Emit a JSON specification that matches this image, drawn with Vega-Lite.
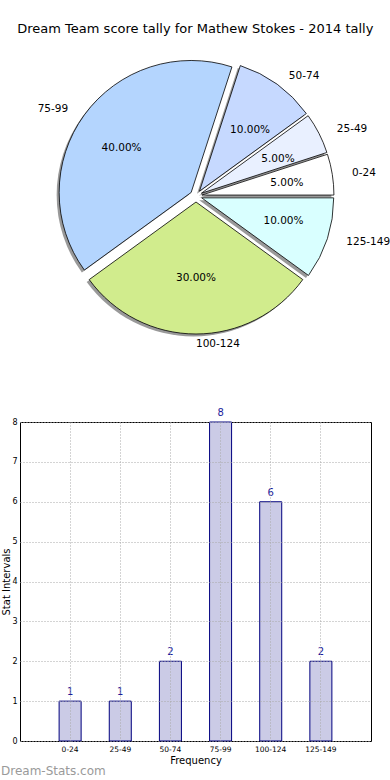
{
  "$schema": "https://vega.github.io/schema/vega-lite/v6.json",
  "padding": {"top": 23, "left": 0, "right": 0, "bottom": 0},
  "autosize": {"type": "pad"},
  "background": "white",
  "config": {"font": "DejaVu Sans", "view": {"stroke": null}},
  "title": {"text": "Dream Team score tally for Mathew Stokes - 2014 tally", "fontSize": 13, "fontWeight": "normal", "font": "DejaVu Sans", "color": "#000", "anchor": "middle", "offset": 4},
  "data": {"values": [
    {"k": 1, "label": "125-149", "n": 2, "pct": 0.10},
    {"k": 2, "label": "100-124", "n": 6, "pct": 0.30},
    {"k": 3, "label": "75-99", "n": 8, "pct": 0.40},
    {"k": 4, "label": "50-74", "n": 2, "pct": 0.10},
    {"k": 5, "label": "25-49", "n": 1, "pct": 0.05},
    {"k": 6, "label": "0-24", "n": 1, "pct": 0.05}
  ]},
  "bounds": "flush",
  "spacing": 70,
  "vconcat": [
    {
      "name": "pie",
      "width": 352,
      "height": 312,
      "encoding": {
        "theta": {"field": "n", "type": "quantitative", "stack": true, "scale": {"range": [1.5707963, 7.8539816]}},
        "order": {"field": "k", "type": "quantitative"}
      },
      "layer": [
        {
          "mark": {"type": "arc", "outerRadius": 132, "fill": "#333333", "opacity": 0.5,
            "x": {"expr": "pie_width/2 - 2.5 + 6*sin(scale('pie_theta', (datum.n_start + datum.n_end)/2))"},
            "y": {"expr": "pie_height/2 + 2.5 - 6*cos(scale('pie_theta', (datum.n_start + datum.n_end)/2))"}}
        },
        {
          "mark": {"type": "arc", "outerRadius": 132, "stroke": "#000000", "strokeWidth": 0.8,
            "x": {"expr": "pie_width/2 + 6*sin(scale('pie_theta', (datum.n_start + datum.n_end)/2))"},
            "y": {"expr": "pie_height/2 - 6*cos(scale('pie_theta', (datum.n_start + datum.n_end)/2))"}},
          "encoding": {
            "color": {"field": "label", "type": "nominal", "legend": null,
              "scale": {"domain": ["0-24", "25-49", "50-74", "75-99", "100-124", "125-149"],
                        "range": ["#ffffff", "#e9f0ff", "#c6d9ff", "#b4d5fe", "#d1ec8d", "#d9ffff"]}}
          }
        },
        {
          "mark": {"type": "text", "fontSize": 10.5, "baseline": "middle", "color": "#000000",
            "align": {"expr": "sin(scale('pie_theta', (datum.n_start + datum.n_end)/2)) > -0.01 ? 'left' : 'right'"},
            "x": {"expr": "pie_width/2 + 158*sin(scale('pie_theta', (datum.n_start + datum.n_end)/2))"},
            "y": {"expr": "pie_height/2 - 148*cos(scale('pie_theta', (datum.n_start + datum.n_end)/2))"}},
          "encoding": {"text": {"field": "label", "type": "nominal"}}
        },
        {
          "mark": {"type": "text", "fontSize": 10.5, "baseline": "middle", "align": "center", "color": "#000000",
            "x": {"expr": "pie_width/2 + 92*sin(scale('pie_theta', (datum.n_start + datum.n_end)/2))"},
            "y": {"expr": "pie_height/2 - 82*cos(scale('pie_theta', (datum.n_start + datum.n_end)/2))"}},
          "encoding": {"text": {"field": "pct", "type": "quantitative", "format": ".2%"}}
        }
      ]
    },
    {
      "name": "bars",
      "width": 351,
      "height": 319,
      "view": {"stroke": "#000000", "strokeWidth": 1},
      "title": {"text": "Dream-Stats.com", "orient": "bottom", "anchor": "start", "frame": "group", "dx": -19, "offset": 0, "fontSize": 12, "fontWeight": "normal", "color": "#9a9a9a"},
      "encoding": {
        "x": {"field": "label", "type": "nominal", "sort": ["0-24", "25-49", "50-74", "75-99", "100-124", "125-149"],
          "scale": {"paddingInner": 0.561, "paddingOuter": 0.78},
          "axis": {"title": "Frequency", "labelAngle": 0, "labelFontSize": 7.5, "titleFontSize": 10, "titleFontWeight": "normal", "labelColor": "#000", "titleColor": "#000",
            "grid": true, "gridDash": [1, 2], "gridColor": "#a8a8a8", "ticks": false, "domain": false, "labelPadding": 4, "titlePadding": 3, "zindex": 1, "bandPosition": 0.5}},
        "y": {"field": "n", "type": "quantitative", "scale": {"domain": [0, 8], "nice": false},
          "axis": {"title": "Stat Intervals", "values": [0, 1, 2, 3, 4, 5, 6, 7, 8], "format": "d", "labelFontSize": 8, "titleFontSize": 10, "titleFontWeight": "normal", "labelColor": "#000", "titleColor": "#000",
            "titleX": -14, "titleBaseline": "middle",
            "grid": true, "gridDash": [1, 2], "gridColor": "#a8a8a8", "ticks": false, "domain": false, "labelPadding": 3, "zindex": 1}}
      },
      "layer": [
        {"mark": {"type": "bar", "fill": "#cbcbe6", "stroke": "#00007f", "strokeWidth": 1}},
        {"mark": {"type": "text", "dy": -4, "baseline": "bottom", "color": "#1c1c9c", "fontSize": 10},
          "encoding": {"text": {"field": "n", "type": "quantitative"}}}
      ]
    }
  ]
}
